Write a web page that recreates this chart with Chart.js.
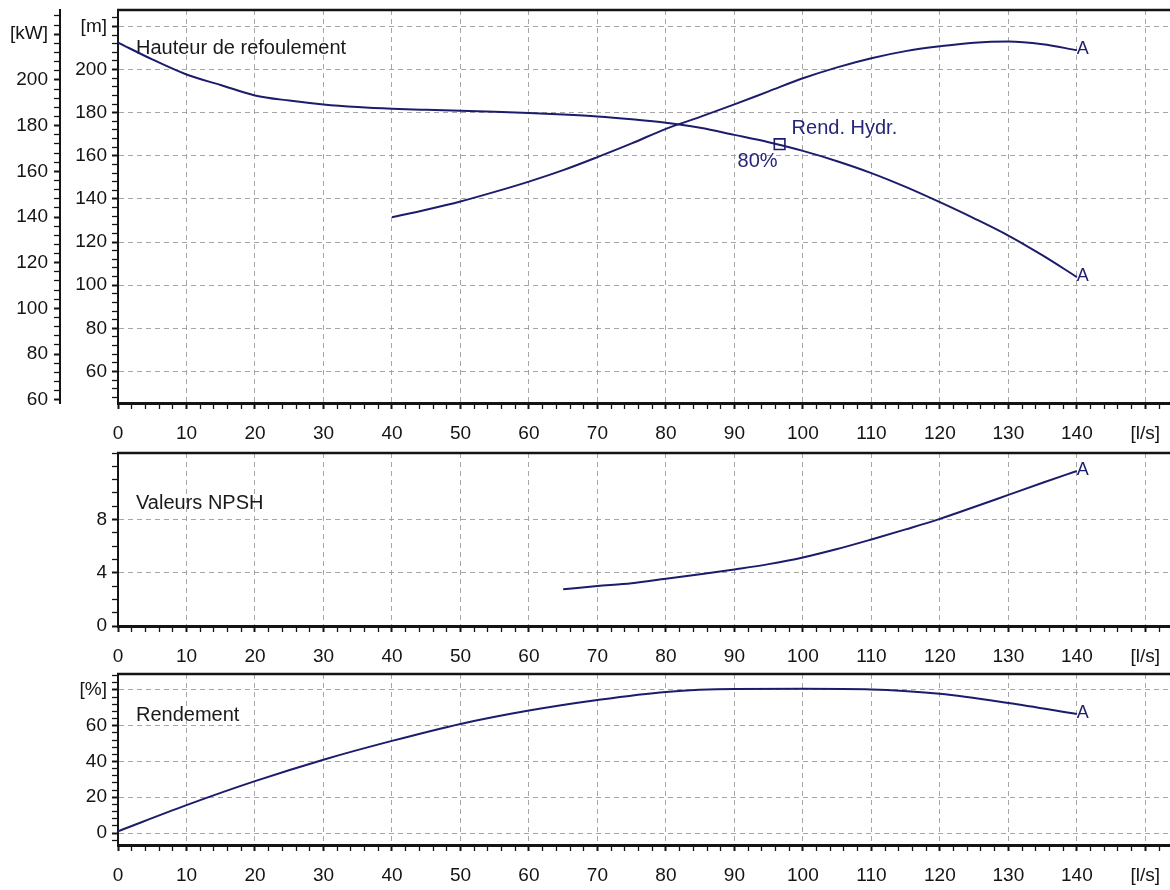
<!DOCTYPE html>
<html><head><meta charset="utf-8">
<script src="https://cdn.jsdelivr.net/npm/chart.js@4.4.1/dist/chart.umd.min.js"></script>
<style>
html,body{margin:0;padding:0;background:#fff;width:1170px;height:890px;overflow:hidden}
canvas{position:absolute;left:0}
</style></head><body>
<canvas id="c1" width="1170" height="450" style="top:0px"></canvas>
<canvas id="c2" width="1170" height="230" style="top:443px"></canvas>
<canvas id="c3" width="1170" height="226" style="top:664px"></canvas>
<script>
// ---------- data ----------
const flowHead = [0,5,10,15,20,25,30,35,40,45,50,55,60,65,70,75,80,85,90,95,100,105,110,115,120,125,130,135,140];
const head = [212.5,204.7,197.7,192.8,188.0,185.6,183.8,182.6,181.8,181.3,180.9,180.4,179.8,179.1,178.2,176.9,175.3,173.0,169.7,166.3,162.3,157.5,152.0,145.6,138.5,131.0,123.0,113.8,103.8];

const flowPower = [40,45,50,55,60,65,70,75,80,85,90,95,100,105,110,115,120,125,130,135,140];
const power = [139.9,143.2,146.8,151.0,155.5,160.5,166.2,172.2,178.6,183.8,189.3,195.0,200.7,205.5,209.5,212.6,214.7,216.3,216.8,215.6,213.0];

const flowNpsh = [65,70,75,80,85,90,95,100,105,110,115,120,125,130,135,140];
const npsh = [2.76,3.0,3.22,3.55,3.88,4.25,4.65,5.15,5.78,6.5,7.26,8.05,8.94,9.85,10.76,11.65];

const flowEff = [0,10,20,30,40,50,60,70,80,90,100,110,120,130,140];
const efficiency = [1.0,15.6,29.0,41.0,51.5,61.0,68.5,74.4,78.9,80.5,80.6,80.3,77.8,72.7,66.6];

const markerFlow = [96.6];
const markerHead = [165.4];
const markerLabels = ['Rend. Hydr.', '80%'];

const panelTitles = ['Hauteur de refoulement', 'Valeurs NPSH', 'Rendement'];

const flowMajor = [0,10,20,30,40,50,60,70,80,90,100,110,120,130,140,150];
const flowLabels = ['0','10','20','30','40','50','60','70','80','90','100','110','120','130','140','[l/s]'];
const headMajor = [60,80,100,120,140,160,180,200,220];
const headLabels = ['60','80','100','120','140','160','180','200','[m]'];
const powerMajor = [60,80,100,120,140,160,180,200,220];
const powerLabels = ['60','80','100','120','140','160','180','200','[kW]'];
const npshMajor = [0,4,8];
const npshLabels = ['0','4','8'];
const effMajor = [0,20,40,60,80];
const effLabels = ['0','20','40','60','[%]'];

// ---------- styles ----------
const FONT = '"Liberation Sans", Arial, sans-serif';
const CURVE = '#1c1c6c';
const TEXTBLUE = '#25257a';
const GRID = 'rgba(150,150,150,0.85)';
const INK = '#141414';

function minorList(min, max, step) {
  const a = [];
  for (let k = Math.ceil(min / step - 1e-9); k * step <= max + 1e-9; k++) a.push(+(k * step).toFixed(6));
  return a;
}
function lookup(majors, labels) {
  return v => { const i = majors.findIndex(m => Math.abs(m - v) < 1e-6); return i >= 0 ? labels[i] : ''; };
}
function isMajor(majors, v) { return majors.some(m => Math.abs(m - v) < 1e-6); }

function axis(o) {
  const lab = lookup(o.majors, o.labels);
  return {
    type: 'linear',
    position: o.position,
    weight: o.weight || 0,
    min: o.min, max: o.max,
    afterBuildTicks: s => { s.ticks = minorList(o.min, o.max, o.step).map(v => ({ value: v })); },
    afterFit: s => {
      if (o.position === 'bottom') s.height = o.size; else s.width = o.size;
      s.paddingTop = 0; s.paddingBottom = 0; s.paddingLeft = 0; s.paddingRight = 0;
    },
    ticks: {
      autoSkip: false, maxRotation: 0, minRotation: 0,
      padding: o.pad, color: INK,
      font: { family: FONT, size: 19 },
      callback: v => lab(v)
    },
    grid: {
      drawOnChartArea: o.grid !== false,
      color: c => (c.tick && isMajor(o.majors, c.tick.value)) ? GRID : 'rgba(0,0,0,0)',
      lineWidth: 1,
      tickColor: INK, tickLength: 6,
      tickWidth: c => (c.tick && isMajor(o.majors, c.tick.value)) ? 2 : 1.3,
      tickBorderDash: []
    },
    border: { display: true, color: INK, width: o.borderWidth || 2, dash: [5, 4] }
  };
}

const deco = {
  id: 'deco',
  beforeDatasetsDraw(chart, args, o) {
    const { ctx, chartArea: a } = chart;
    if (o.title) {
      ctx.save();
      ctx.font = '20px ' + FONT; ctx.fillStyle = '#1a1a1a';
      ctx.textBaseline = 'middle'; ctx.textAlign = 'left';
      ctx.fillText(o.title, a.left + 18, a.top + o.titleDy);
      ctx.restore();
    }
  },
  afterDatasetsDraw(chart, args, o) {
    const { ctx, chartArea: a } = chart;
    ctx.save();
    (o.endMarks || []).forEach(i => {
      const pts = chart.getDatasetMeta(i).data;
      const p = pts[pts.length - 1];
      ctx.font = '18px ' + FONT; ctx.fillStyle = CURVE;
      ctx.textAlign = 'center'; ctx.textBaseline = 'middle';
      ctx.fillText('A', p.x + 6, p.y - 1);
    });
    if (o.marker != null) {
      const p = chart.getDatasetMeta(o.marker).data[0];
      ctx.font = '20px ' + FONT; ctx.fillStyle = TEXTBLUE; ctx.textBaseline = 'middle';
      ctx.textAlign = 'left'; ctx.fillText(markerLabels[0], p.x + 12, p.y - 16);
      ctx.textAlign = 'right'; ctx.fillText(markerLabels[1], p.x - 2, p.y + 17);
    }
    ctx.strokeStyle = INK; ctx.lineWidth = 2.5;
    ctx.beginPath(); ctx.moveTo(a.left - 1, a.top); ctx.lineTo(a.right, a.top); ctx.stroke();
    ctx.restore();
  }
};
Chart.register(deco);

function pts(xs, ys) { return xs.map((x, i) => ({ x, y: ys[i] })); }
function curve(xs, ys, yID) {
  return {
    data: pts(xs, ys), yAxisID: yID, borderColor: CURVE, borderWidth: 2,
    pointRadius: 0, fill: false, cubicInterpolationMode: 'monotone', showLine: true
  };
}
function xAxis(size) {
  return axis({ position: 'bottom', min: 0, max: 153.6, step: 2, majors: flowMajor, labels: flowLabels, pad: 13, size: size, borderWidth: 3 });
}
function base() {
  return {
    responsive: false, animation: false, devicePixelRatio: 1,
    layout: { autoPadding: false, padding: { top: 10, left: 0, right: 0, bottom: 0 } },
    elements: { line: { tension: 0 } }
  };
}
function plugins(extra) {
  return Object.assign({ legend: { display: false }, tooltip: { enabled: false } }, { deco: extra });
}

new Chart(document.getElementById('c1'), {
  type: 'line',
  data: { datasets: [
    curve(flowHead, head, 'm'),
    curve(flowPower, power, 'kw'),
    { data: pts(markerFlow, markerHead), yAxisID: 'm', showLine: false, pointStyle: 'rect', pointRadius: 7.5,
      pointBorderColor: CURVE, pointBackgroundColor: '#fff', pointBorderWidth: 1.6 }
  ]},
  options: Object.assign({}, base(), {
    scales: {
      x: xAxis(47),
      kw: axis({ position: 'left', weight: 1, min: 58.6, max: 230.6, step: 4, majors: powerMajor, labels: powerLabels, pad: 6, size: 60, grid: false }),
      m: axis({ position: 'left', weight: 0, min: 45.4, max: 227.6, step: 4, majors: headMajor, labels: headLabels, pad: 5, size: 58 })
    },
    plugins: plugins({ title: panelTitles[0], titleDy: 38, endMarks: [0, 1], marker: 2 })
  })
});

new Chart(document.getElementById('c2'), {
  type: 'line',
  data: { datasets: [ curve(flowNpsh, npsh, 'y') ] },
  options: Object.assign({}, base(), {
    scales: {
      x: xAxis(47),
      y: axis({ position: 'left', min: 0, max: 13, step: 1, majors: npshMajor, labels: npshLabels, pad: 5, size: 118 })
    },
    plugins: plugins({ title: panelTitles[1], titleDy: 50, endMarks: [0] })
  })
});

new Chart(document.getElementById('c3'), {
  type: 'line',
  data: { datasets: [ curve(flowEff, efficiency, 'y') ] },
  options: Object.assign({}, base(), {
    scales: {
      x: xAxis(45),
      y: axis({ position: 'left', min: -6.7, max: 88.9, step: 4, majors: effMajor, labels: effLabels, pad: 5, size: 118 })
    },
    plugins: plugins({ title: panelTitles[2], titleDy: 41, endMarks: [0] })
  })
});
</script>
</body></html>
